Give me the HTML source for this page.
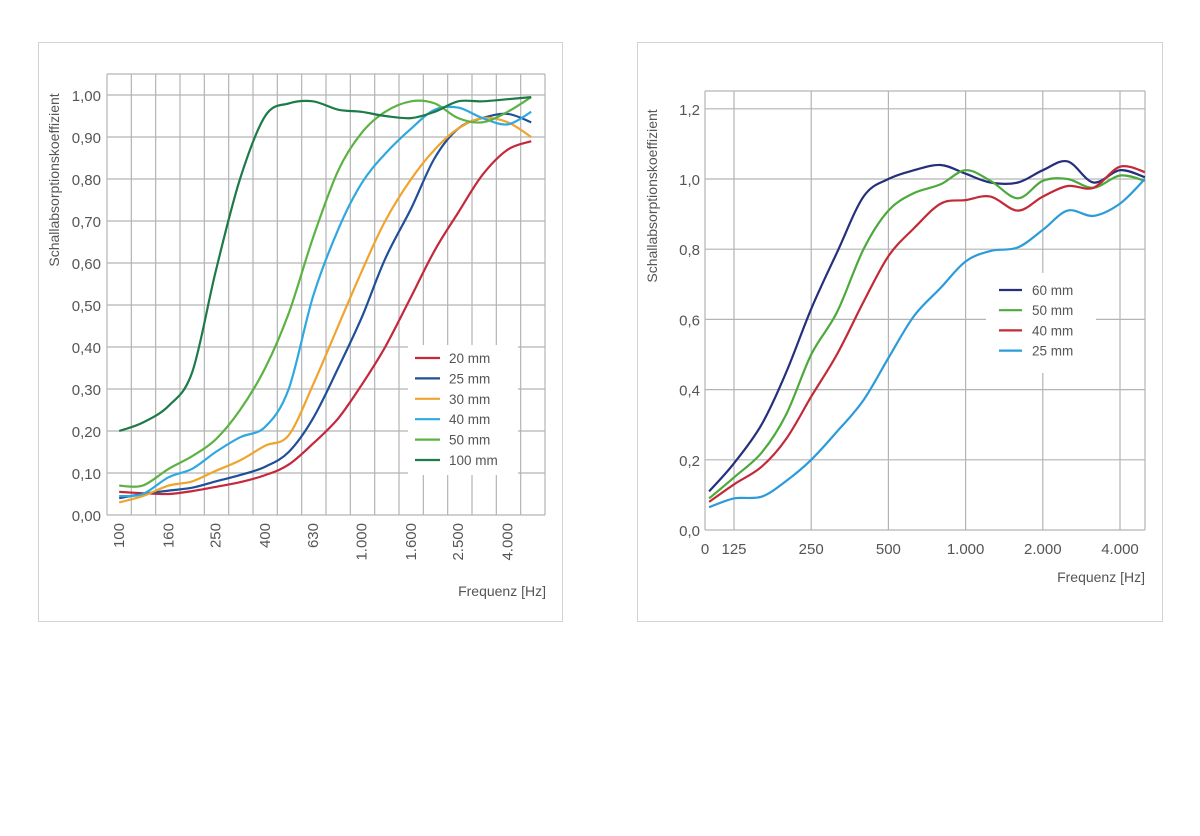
<!DOCTYPE html>
<html><head><meta charset="utf-8"><style>
html,body{margin:0;padding:0;background:#fff;}
svg{display:block;font-family:"Liberation Sans",sans-serif;}
</style></head><body>
<svg id="svg" width="1200" height="836" viewBox="0 0 1200 836">
<rect x="38.5" y="42.5" width="524" height="579" fill="#fff" stroke="#cfd3d6"/>
<rect x="637.5" y="42.5" width="525" height="579" fill="#fff" stroke="#cfd3d6"/>
<g id="L"></g><g id="R"></g>
</svg>
<script>
const NS="http://www.w3.org/2000/svg";
// ---- left chart data ----
const leftFreqs=[100,125,160,200,250,315,400,500,630,800,1000,1250,1600,2000,2500,3150,4000,5000];
const leftTickLabels=["100","160","250","400","630","1.000","1.600","2.500","4.000"];
const leftTickIdx=[0,2,4,6,8,10,12,14,16];
const leftYTicks=["0,00","0,10","0,20","0,30","0,40","0,50","0,60","0,70","0,80","0,90","1,00"];
const s20=[0.055,0.052,0.05,0.057,0.067,0.078,0.095,0.12,0.17,0.23,0.31,0.40,0.52,0.63,0.72,0.81,0.87,0.89];
const s25=[0.04,0.05,0.058,0.065,0.08,0.095,0.115,0.15,0.23,0.35,0.47,0.61,0.73,0.85,0.92,0.945,0.955,0.935];
const s30=[0.03,0.045,0.07,0.08,0.105,0.13,0.165,0.19,0.31,0.45,0.58,0.70,0.80,0.87,0.92,0.945,0.935,0.90];
const s40=[0.045,0.05,0.09,0.11,0.15,0.185,0.21,0.30,0.52,0.68,0.79,0.86,0.92,0.965,0.97,0.945,0.93,0.96];
const s50=[0.07,0.07,0.11,0.14,0.18,0.25,0.35,0.48,0.66,0.82,0.91,0.96,0.985,0.98,0.945,0.935,0.96,0.995];
const s100=[0.20,0.22,0.26,0.34,0.58,0.80,0.95,0.98,0.985,0.965,0.96,0.95,0.945,0.96,0.985,0.985,0.99,0.995];
const leftNames=["20mm","25mm","30mm","40mm","50mm","100mm"];
// ---- right chart data ----
const rightFreqs=[100,125,160,200,250,315,400,500,630,800,1000,1250,1600,2000,2500,3150,4000,5000];
const rightTickLabels=["0","125","250","500","1.000","2.000","4.000"];
const rightTickFreqs=[125,250,500,1000,2000,4000];
const rightYTicks=["0,0","0,2","0,4","0,6","0,8","1,0","1,2"];
const r60=[0.11,0.19,0.30,0.45,0.63,0.79,0.95,1.00,1.025,1.04,1.015,0.99,0.99,1.025,1.05,0.99,1.025,1.005];
const r50=[0.09,0.15,0.22,0.33,0.50,0.62,0.80,0.91,0.96,0.985,1.025,0.995,0.945,0.995,1.0,0.975,1.01,0.995];
const r40=[0.08,0.13,0.18,0.26,0.38,0.50,0.65,0.78,0.86,0.93,0.94,0.95,0.91,0.95,0.98,0.975,1.035,1.02];
const r25=[0.065,0.09,0.095,0.14,0.20,0.28,0.37,0.49,0.61,0.69,0.765,0.795,0.805,0.855,0.91,0.895,0.93,1.0];
const rightNames=["60mm","50mm","40mm","25mm"];

function el(tag,attrs,parent,text){const e=document.createElementNS(NS,tag);for(const k in attrs)e.setAttribute(k,attrs[k]);if(text!==undefined)e.textContent=text;parent.appendChild(e);return e;}
function smooth(pts){let d="M"+pts[0][0].toFixed(1)+","+pts[0][1].toFixed(1);
 for(let i=0;i<pts.length-1;i++){const p0=pts[Math.max(0,i-1)],p1=pts[i],p2=pts[i+1],p3=pts[Math.min(pts.length-1,i+2)];
  const c1=[p1[0]+(p2[0]-p0[0])/6,p1[1]+(p2[1]-p0[1])/6],c2=[p2[0]-(p3[0]-p1[0])/6,p2[1]-(p3[1]-p1[1])/6];
  d+=" C"+c1.map(v=>v.toFixed(1))+" "+c2.map(v=>v.toFixed(1))+" "+p2.map(v=>v.toFixed(1));}
 return d;}
const GRID="#b4b4b4",TXT="#555";

// ---------- LEFT ----------
(function(){
const g=document.getElementById("L");
const x0=107,x1=545,step=(x1-x0)/18;
const xL=f=>x0+step*(0.5+3*Math.log2(f/100));
const yL=v=>515-420*v;
for(let i=0;i<=18;i++){const l=el("line",{x1:x0+i*step,x2:x0+i*step,y1:74,y2:515,stroke:GRID,"stroke-width":1.2},g);

}
const top=el("line",{x1:x0,x2:x1,y1:74,y2:74,stroke:GRID,"stroke-width":1.2},g);


leftYTicks.forEach((t,i)=>{const y=yL(i/10);
 const l=el("line",{x1:x0,x2:x1,y1:y,y2:y,stroke:GRID,"stroke-width":1.2},g);
 
 
 const tx=el("text",{x:101,y:y+6,"text-anchor":"end","font-size":15,fill:TXT},g,t);
 
 });
leftTickLabels.forEach((t,i)=>{const x=xL(leftFreqs[leftTickIdx[i]]);
 const tx=el("text",{transform:`translate(${x+5},523) rotate(-90)`,"text-anchor":"end","font-size":15,fill:TXT},g,t);
 
 });
const yt=el("text",{transform:"translate(59,180) rotate(-90)","text-anchor":"middle","font-size":14,fill:TXT},g,"Schallabsorptionskoeffizient");


const xt=el("text",{x:546,y:596,"text-anchor":"end","font-size":14,fill:TXT},g,"Frequenz [Hz]");


const series=[s20,s25,s30,s40,s50,s100];
const colors=["#c4283c","#1f4f98","#efa42e","#2ea8de","#5cb243","#1e7a48"];
const lg=el("rect",{x:408,y:345,width:110,height:130,fill:"#fff"},g);


series.forEach((s,k)=>{
 const p=el("path",{d:smooth(s.map((v,i)=>[xL(leftFreqs[i]),yL(v)])),fill:"none",stroke:colors[k],"stroke-width":2.2},g);
 
 
 const y=358+20.4*k;
 const ll=el("line",{x1:415,x2:440,y1:y,y2:y,stroke:colors[k],"stroke-width":2.2},g);
 
 
 const lt=el("text",{x:449,y:y+5,"font-size":13.5,fill:TXT},g,leftNames[k].replace("mm"," mm"));
 
 
});
})();

// ---------- RIGHT ----------
(function(){
const g=document.getElementById("R");
const x0=705,x1=1145,oct=77.2;
const xR=f=>734+oct*Math.log2(f/125);
const yR=v=>530-351*v;
const vx=[x0].concat(rightTickFreqs.map(xR)).concat([x1]);
vx.forEach(x=>{const l=el("line",{x1:x,x2:x,y1:91,y2:530,stroke:GRID,"stroke-width":1.2},g);
 
 });
const top=el("line",{x1:x0,x2:x1,y1:91,y2:91,stroke:GRID,"stroke-width":1.2},g);


rightYTicks.forEach((t,i)=>{const y=yR(i*0.2);
 const l=el("line",{x1:x0,x2:x1,y1:y,y2:y,stroke:GRID,"stroke-width":1.2},g);
 
 
 const tx=el("text",{x:700,y:y+6,"text-anchor":"end","font-size":15,fill:TXT},g,t);
 
 });
rightTickLabels.forEach((t,i)=>{const x=i===0?x0:xR(rightTickFreqs[i-1]);
 const tx=el("text",{x:x,y:554,"text-anchor":"middle","font-size":15,fill:TXT},g,t);
 
 });
const yt=el("text",{transform:"translate(657,196) rotate(-90)","text-anchor":"middle","font-size":14,fill:TXT},g,"Schallabsorptionskoeffizient");


const xt=el("text",{x:1145,y:582,"text-anchor":"end","font-size":14,fill:TXT},g,"Frequenz [Hz]");


const series=[r60,r50,r40,r25];
const colors=["#252f7c","#4caa3c","#c22a37","#2b9bd9"];
const lg=el("rect",{x:986,y:273,width:110,height:100,fill:"#fff"},g);


series.forEach((s,k)=>{
 const p=el("path",{d:smooth(s.map((v,i)=>[Math.max(x0,Math.min(x1,xR(rightFreqs[i]))),yR(v)])),fill:"none",stroke:colors[k],"stroke-width":2.2},g);
 
 
 const y=290+20.2*k;
 const ll=el("line",{x1:999,x2:1022,y1:y,y2:y,stroke:colors[k],"stroke-width":2.2},g);
 
 
 const lt=el("text",{x:1032,y:y+5,"font-size":13.5,fill:TXT},g,rightNames[k].replace("mm"," mm"));
 
 
});
})();
</script>
</body></html>
